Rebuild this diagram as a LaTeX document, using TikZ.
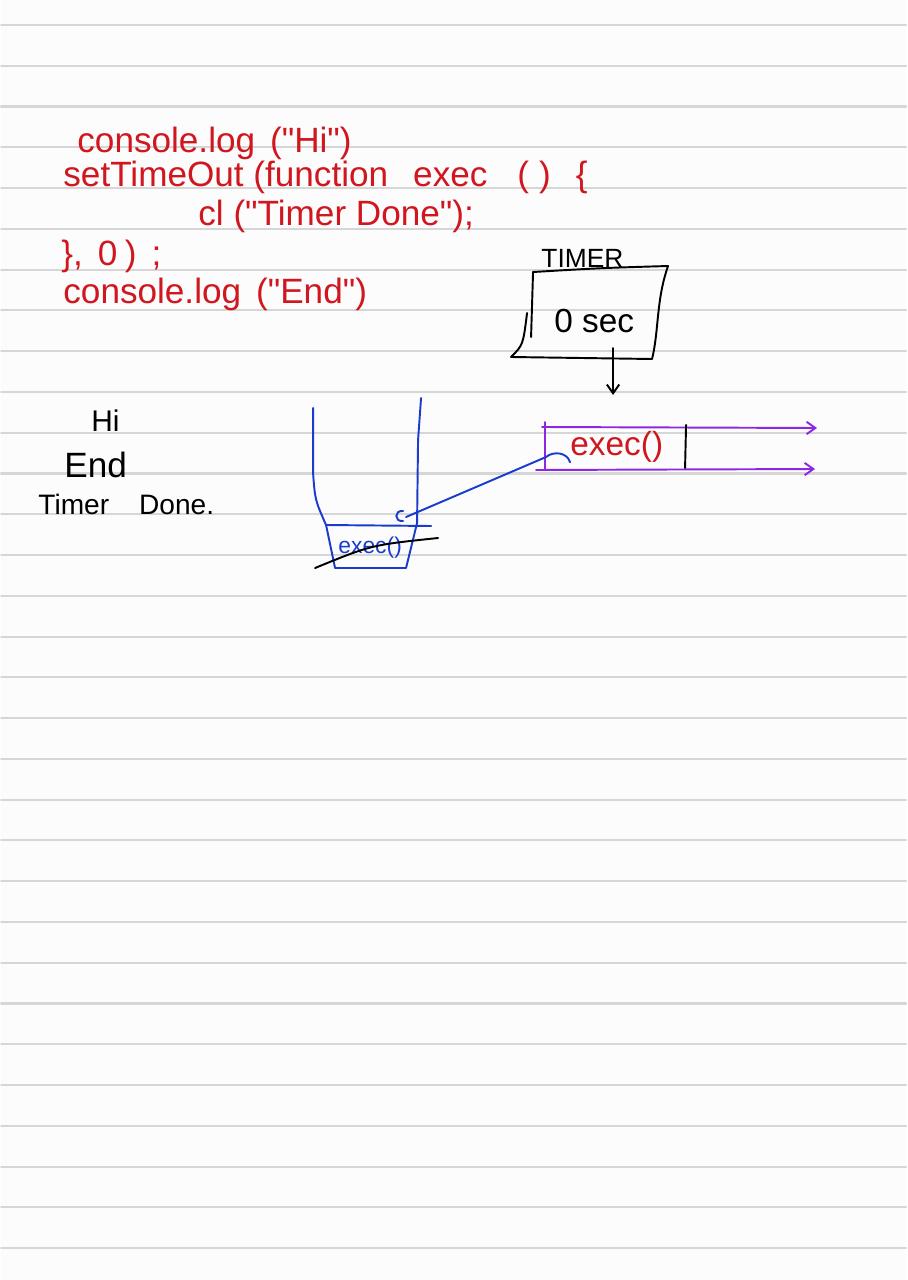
\documentclass[tikz,border=0pt]{standalone}
\usepackage{fontspec}
\setmainfont{Liberation Sans}
\usetikzlibrary{arrows.meta}
\definecolor{inkred}{RGB}{208,22,30}
\definecolor{inkblue}{RGB}{25,60,205}
\definecolor{inkpurple}{RGB}{140,40,225}
\definecolor{ruled}{RGB}{214,214,214}
\definecolor{paper}{RGB}{252,252,252}
\newcommand{\dq}{\textquotedbl}

\begin{document}
\begin{tikzpicture}[x=0.02cm,y=-0.02cm,>={Straight Barb[length=5pt,width=7pt]},
  line cap=round,line join=round,
  code/.style={inkred,font=\fontsize{20}{24}\selectfont,anchor=base west,inner sep=0pt},
  said/.style={font=\fontsize{#1}{#1}\selectfont,anchor=base west,inner sep=0pt},
  pen/.style={line width=1.1pt}]

  % paper
  \fill[paper] (0,0) rectangle (905,1280);
  \foreach \k in {0,...,30}
    \draw[ruled,line width=1.2pt] (0,{25+40.77*\k}) -- (905,{25+40.77*\k});

  % code
  \node[code] (log1) at (76,153) {console.log\hspace{0.3cm}(\dq Hi\dq)};
  \node[code] (timeout) at (62,187) {setTimeOut (function\hspace{0.5cm}exec\hspace{0.6cm}(\hspace{0.2cm})\hspace{0.5cm}\{};
  \node[code] (cl) at (197,226) {cl (\dq Timer Done\dq);};
  \node[code] (close) at (60,266) {\},\hspace{0.3cm}0\hspace{0.15cm})\hspace{0.3cm};};
  \node[code] (log2) at (62,303) {console.log\hspace{0.3cm}(\dq End\dq)};

  % console output
  \node[said=17] (hi) at (90,431) {Hi};
  \node[said=20] (end) at (63,477) {End};
  \node[said=16] (done) at (37,514) {Timer\hspace{0.6cm}Done.};

  % timer
  \node[said=15] (timerlbl) at (540,268) {TIMER};
  \node[said=19] (timer) at (553,332) {0 sec};
  \draw[pen] (532,272) .. controls (600,268) .. (667,266)
    .. controls (655,300) and (658,330) .. (651,359) -- (510,357)
    .. controls (522,345) .. (526,313);
  \draw[pen] (532,272) -- (530,337);
  \coordinate (tbot) at (612,348);
  \coordinate (qin) at (612,395);
  \draw[pen,->] (tbot) -- (qin);

  % queue
  \node[said=19,inkred] (qexec) at (569,455) {exec()};
  \draw[inkpurple,pen,->] (541,427) -- (816,428);
  \draw[inkpurple,pen,->] (535,470) -- (814,469);
  \draw[inkpurple,pen] (544,422) -- (544,470);
  \draw[pen] (685,425) -- (684,468);

  % call stack
  \draw[inkblue,pen] (312,408) -- (312,473) .. controls (314,500) .. (325,525)
    -- (334,568) -- (405,568) -- (416,523) -- (417,440) -- (420,398);
  \draw[inkblue,pen] (325,525) -- (430,526);
  \node[said=13,inkblue] (sexec) at (337,553) {exec()};
  \draw[pen] (314,568) .. controls (370,545) .. (437,538);

  % move to stack
  \coordinate (scall) at (405,517);
  \draw[inkblue,pen] (qexec.south west) .. controls (566,452) and (552,451) .. (545,457)
    -- (scall);
  \draw[inkblue,pen] (402,511) .. controls (393,510) and (393,522) .. (402,521);
\end{tikzpicture}
\end{document}
